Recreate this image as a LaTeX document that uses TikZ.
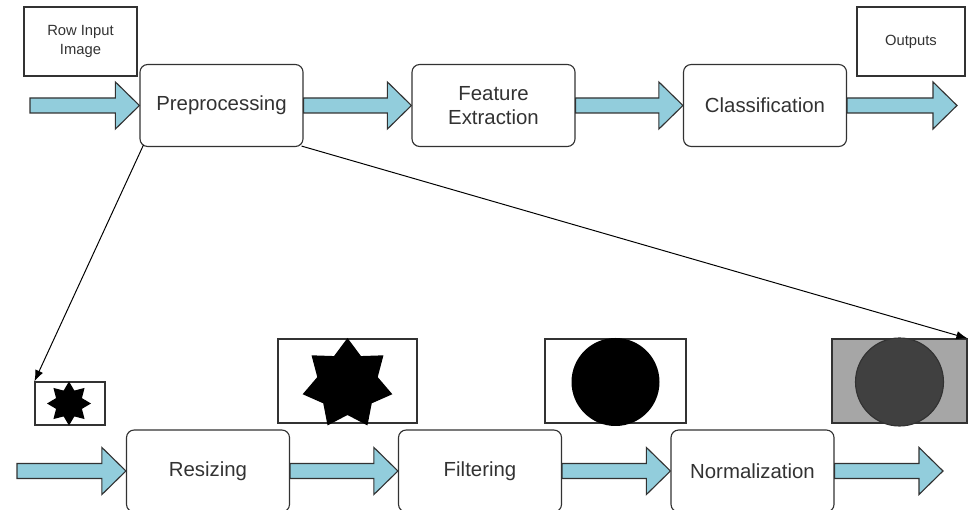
\documentclass[tikz,border=0pt]{standalone}
\usepackage{fontspec}
\setmainfont{Liberation Sans}
\usetikzlibrary{calc,arrows.meta}

\definecolor{arrowblue}{RGB}{146,205,220}
\definecolor{linegray}{RGB}{50,50,50}
\definecolor{txtgray}{RGB}{50,50,50}
\definecolor{boxgray}{RGB}{166,166,166}
\definecolor{dotgray}{RGB}{64,64,64}

\tikzset{
  fatarrow/.style={draw=linegray, fill=arrowblue, line width=0.8pt,
    to path={($(\tikztostart)+(0,-7.5)$) -- ($(\tikztotarget)+(-24,-7.5)$)
      -- ($(\tikztotarget)+(-24,-23.5)$) -- (\tikztotarget)
      -- ($(\tikztotarget)+(-24,23.5)$) -- ($(\tikztotarget)+(-24,7.5)$)
      -- ($(\tikztostart)+(0,7.5)$) -- cycle}},
  thinarrow/.style={draw=black, line width=0.7pt, -{Latex[length=8pt,width=6pt]}},
}

\begin{document}
\begin{tikzpicture}[x=0.025cm,y=-0.025cm]

      \useasboundingbox (0,0) rectangle (968,510);

      \begin{scope}[every node/.style={draw=linegray, line width=0.8pt, rounded corners=5.5pt,
          minimum width=4.075cm, minimum height=2.05cm, inner sep=0pt, text=txtgray,
          font=\fontsize{14.5}{17}\selectfont, align=center}]
        \node (pre)  at (221.5,105.5) {Preprocessing};
        \node (feat) at (493.5,105.5) {Feature\\Extraction};
        \node (cls)  at (765,105.5)   {Classification};
        \node (resz) at (208,471)     {Resizing};
        \node (filt) at (480,471)     {Filtering};
        \node (norm) at (752.5,471)   {Normalization};
      \end{scope}

      \begin{scope}[every node/.style={draw=linegray, line width=0.8pt, inner sep=0pt,
          text=txtgray, font=\fontsize{10.5}{13}\selectfont, align=center}]
        \node[minimum width=2.825cm, minimum height=1.725cm] (inimg) at (80.5,41.5) {Row Input\\Image};
        \node[minimum width=2.7cm, minimum height=1.725cm] (outp) at (911,41.5) {Outputs};
        \node[minimum width=1.75cm, minimum height=1.075cm] (img1) at (70,403.5) {};
        \node[minimum width=3.475cm, minimum height=2.1cm] (img2) at (347.5,381) {};
        \node[minimum width=3.525cm, minimum height=2.1cm] (img3) at (615.5,381) {};
        \node[minimum width=3.375cm, minimum height=2.1cm, fill=boxgray] (img4) at (899.5,381) {};
      \end{scope}

      \coordinate (in1)  at (30,105.5);
      \coordinate (out1) at (957,105.5);
      \coordinate (in2)  at (17,471);
      \coordinate (out2) at (943,471);

      \path (in1)      edge[fatarrow] (pre.west);
      \path (pre.east) edge[fatarrow] (feat.west);
      \path (feat.east) edge[fatarrow] (cls.west);
      \path (cls.east) edge[fatarrow] (out1);
      \path (in2)       edge[fatarrow] (resz.west);
      \path (resz.east) edge[fatarrow] (filt.west);
      \path (filt.east) edge[fatarrow] (norm.west);
      \path (norm.east) edge[fatarrow] (out2);

      \fill[black, shift={($(img1.center)+(-1,0)$)}]
        plot[samples at={0,...,15}] ({\x*360/16-90}:{ifthenelse(mod(\x,2)==0,22,14)}) -- cycle;
      \fill[black, shift={($(img2.center)+(0,3)$)}]
        plot[samples at={0,...,13}] ({\x*360/14-90}:{ifthenelse(mod(\x,2)==0,46,31)}) -- cycle;
      \fill[black] ($(img3.center)+(0,1)$) circle (44);
      \draw[linegray, fill=dotgray, line width=0.8pt] ($(img4.center)+(0,1)$) circle (44);

      \draw[thinarrow] ($(pre.south west)+(4,-2)$) -- (img1.north west);
      \draw[thinarrow] ($(pre.south east)+(-2,-1)$) -- (img4.north east);

    \end{tikzpicture}
\end{document}
